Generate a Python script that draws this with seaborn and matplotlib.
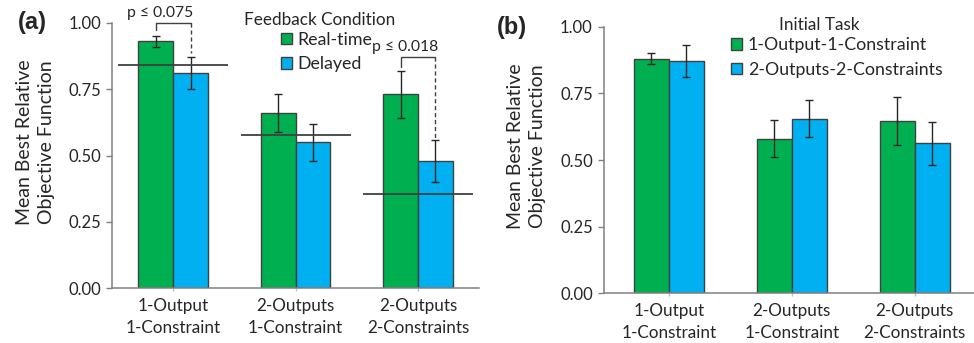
import matplotlib
matplotlib.use('Agg')
import matplotlib.pyplot as plt
from matplotlib.patches import Patch
import pandas as pd
import seaborn as sns

# Data
categories = ['1-Output\n1-Constraint', '2-Outputs\n1-Constraint', '2-Outputs\n2-Constraints']

# panel (a): feedback condition
a_levels = ['Real-time', 'Delayed']
a_realtime = [0.93, 0.66, 0.73]
a_realtime_err = [0.02, 0.07, 0.09]
a_delayed = [0.81, 0.55, 0.48]
a_delayed_err = [0.06, 0.07, 0.08]
a_baseline = [0.842, 0.578, 0.357]

# panel (b): initial task
b_levels = ['1-Output-1-Constraint', '2-Outputs-2-Constraints']
b_first = [0.88, 0.58, 0.645]
b_first_err = [0.02, 0.07, 0.09]
b_second = [0.87, 0.655, 0.563]
b_second_err = [0.06, 0.07, 0.08]

yticks = [0.0, 0.25, 0.5, 0.75, 1.0]

GREEN = '#00B050'
BLUE = '#00B0F0'
EDGE = '#404040'
TEXT = '#262626'

sns.set_theme(style='white')
plt.rcParams['font.family'] = ['Lato', 'DejaVu Sans']
plt.rcParams['text.color'] = TEXT
plt.rcParams['axes.labelcolor'] = TEXT
plt.rcParams['xtick.color'] = TEXT
plt.rcParams['ytick.color'] = TEXT


def make_df(v1, e1, v2, e2, levels):
    rows = []
    for i, c in enumerate(categories):
        rows.append({'task': c, 'cond': levels[0], 'value': v1[i], 'err': e1[i]})
        rows.append({'task': c, 'cond': levels[1], 'value': v2[i], 'err': e2[i]})
    return pd.DataFrame(rows)


def draw_panel(ax, df, levels):
    sns.barplot(data=df, x='task', y='value', hue='cond', hue_order=levels,
                order=categories, palette=[GREEN, BLUE], width=0.57, gap=0,
                edgecolor=EDGE, linewidth=1, errorbar=None, legend=False,
                saturation=1, ax=ax)
    centers = {}
    for p in ax.patches:
        xc = p.get_x() + p.get_width() / 2
        ci = int(round(xc))
        hi = 0 if xc < ci else 1
        row = df[(df['task'] == categories[ci]) & (df['cond'] == levels[hi])].iloc[0]
        ax.errorbar(xc, row['value'], yerr=row['err'], color=TEXT, lw=1,
                    capsize=2.8, capthick=1, zorder=5)
        centers[(ci, hi)] = xc

    ax.set_ylim(0, 1)
    ax.set_yticks(yticks)
    ax.set_yticklabels([f'{t:.2f}' for t in yticks], fontsize=12)
    ax.set_xticks(range(len(categories)))
    ax.set_xticklabels(categories, fontsize=12.3, linespacing=1.45)
    ax.set_xlabel('')
    ax.set_ylabel('Mean Best Relative\nObjective Function', fontsize=14,
                  linespacing=1.35)
    ax.yaxis.set_label_coords(-0.155, 0.55)
    for s in ['top', 'right']:
        ax.spines[s].set_visible(False)
    for s in ['left', 'bottom']:
        ax.spines[s].set_color('#808080')
        ax.spines[s].set_linewidth(1.1)
    ax.tick_params(axis='y', left=True, length=4, width=1, color='#808080', pad=4)
    ax.tick_params(axis='x', bottom=True, length=2, width=1, color='#bfbfbf', pad=5)
    return centers


def add_legend(ax, levels, title, x, y, title_x, title_y):
    handles = [Patch(facecolor=GREEN, edgecolor=EDGE, lw=1),
               Patch(facecolor=BLUE, edgecolor=EDGE, lw=1)]
    leg = ax.legend(handles, levels, loc='center left', bbox_to_anchor=(x, y),
                    bbox_transform=fig.transFigure, frameon=False, fontsize=12.8,
                    handlelength=0.62, handleheight=0.62, handletextpad=0.3,
                    labelspacing=0.48, borderpad=0, borderaxespad=0)
    fig.text(title_x, title_y, title, ha='center', va='center', fontsize=12.3)
    return leg


fig = plt.figure(figsize=(9.74, 3.43), dpi=100)
ax1 = fig.add_axes([0.115, 0.1595, 0.377, 0.774])
ax2 = fig.add_axes([0.620, 0.145, 0.381, 0.777])

df_a = make_df(a_realtime, a_realtime_err, a_delayed, a_delayed_err, a_levels)
df_b = make_df(b_first, b_first_err, b_second, b_second_err, b_levels)

c1 = draw_panel(ax1, df_a, a_levels)
ax1.set_xlim(-0.5, 2.5)
c2 = draw_panel(ax2, df_b, b_levels)
ax2.set_xlim(-0.527, 2.49)

# baseline reference lines in panel (a)
for i, yv in enumerate(a_baseline):
    ax1.hlines(yv, i - 0.45, i + 0.45, color=EDGE, lw=1.3, zorder=6)

# significance brackets
brackets = [(0, 1.0, 0.974, 0.887, 'p \u2264 0.075'),
            (2, 0.87, 0.835, 0.56, 'p \u2264 0.018')]
for ci, top, left_end, right_end, label in brackets:
    xl, xr = c1[(ci, 0)], c1[(ci, 1)]
    ax1.plot([xl, xl, xr], [left_end, top, top], color=EDGE, lw=1, clip_on=False)
    ax1.plot([xr, xr], [top, right_end], color=EDGE, lw=1, ls=(0, (3, 2)),
             clip_on=False)
    ax1.text(xr + 0.025, top + 0.012, label, ha='right', va='bottom',
             fontsize=11.3, family=['Lato', 'DejaVu Sans'], clip_on=False)

add_legend(ax1, a_levels, 'Feedback Condition', 0.2885, 0.848, 0.3285, 0.942)
add_legend(ax2, b_levels, 'Initial Task', 0.751, 0.832, 0.841, 0.927)

fig.text(0.018, 0.935, '(a)', ha='left', va='center', fontsize=17,
         fontweight='bold', family='Liberation Sans')
fig.text(0.510, 0.921, '(b)', ha='left', va='center', fontsize=17,
         fontweight='bold', family='Liberation Sans')

fig.savefig('out.png', dpi=100)
